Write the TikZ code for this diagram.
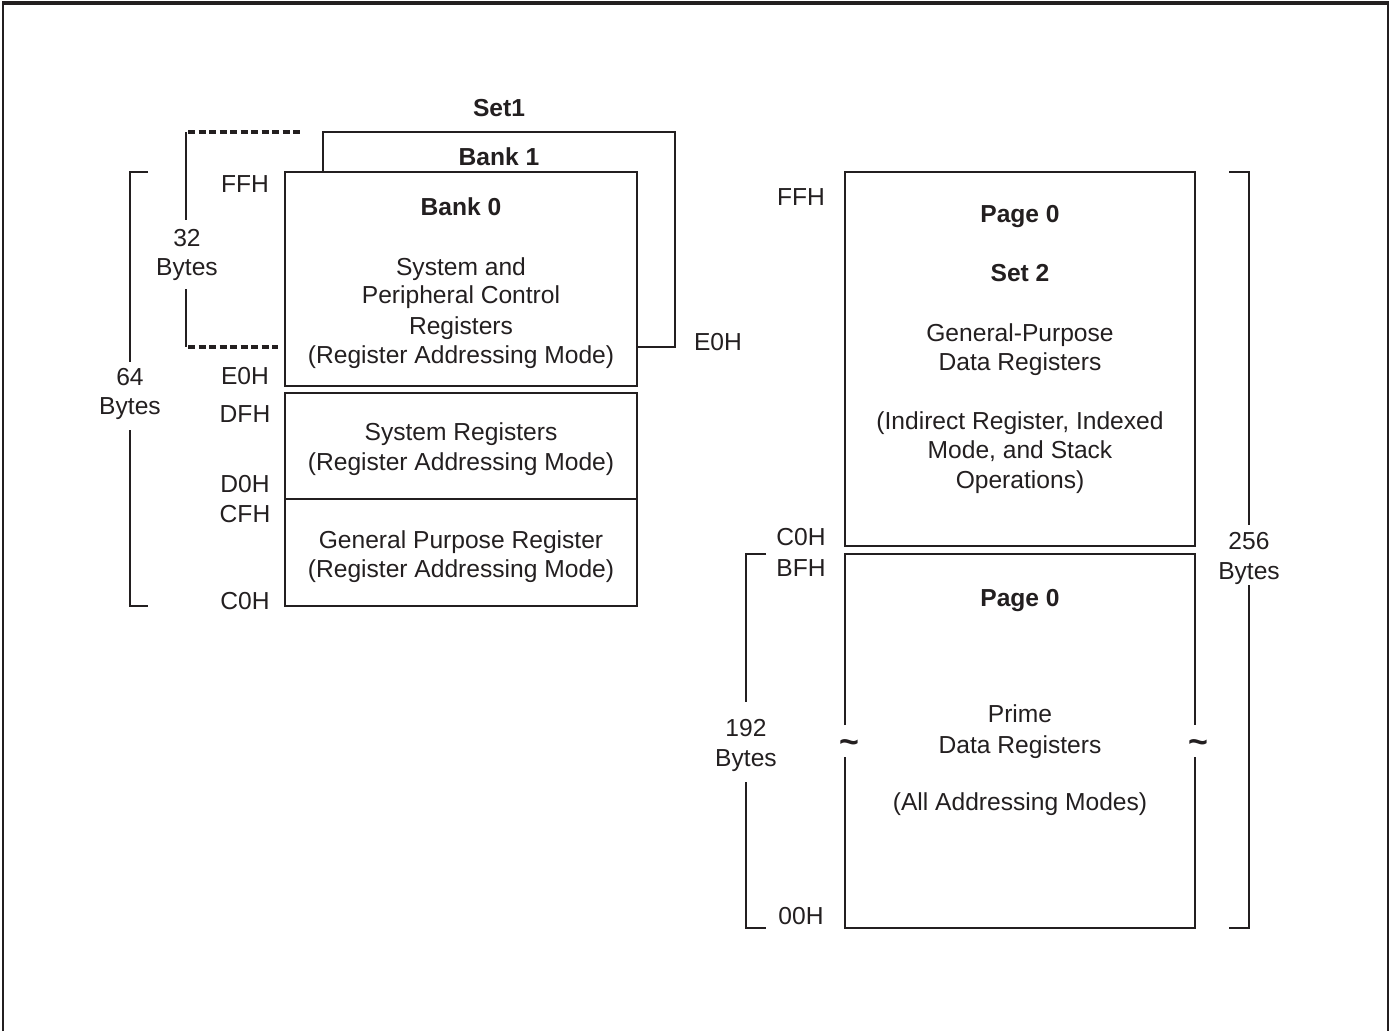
\documentclass[tikz,border=0pt]{standalone}
\usepackage{fontspec}
\setmainfont{Liberation Sans}
\definecolor{ink}{HTML}{231F20}
\begin{document}
\begin{tikzpicture}[x=1pt,y=-1pt,
  wall/.style={line width=1.8pt, draw=ink},
  txt/.style={anchor=base, inner sep=0pt, text=ink, font=\fontsize{24.6}{29}\selectfont},
  hd/.style={txt, font=\fontsize{24.6}{29}\selectfont\bfseries},
  brkmark/.style={txt, font=\fontsize{34}{36}\selectfont\bfseries},
  dashrule/.style={line width=3.3pt, draw=ink, dash pattern=on 7pt off 3.5pt},
  brk/.style={line width=1.8pt, draw=ink}]
\useasboundingbox (0,0) rectangle (1391,1031);

% outer frame, open at the bottom
\draw[line width=1.5pt, draw=ink] (3,1031) -- (3,3) -- (1388,3) -- (1388,1031);
\draw[line width=4pt, draw=ink] (2,3) -- (1389,3);

% ---------- register file: Set 1 ----------
% Bank 1, behind Bank 0
\draw[wall] (323,172) -- (323,132) -- (675,132) -- (675,347) -- (637,347);
\node[hd] (set1) at (499,116) {Set1};
\node[hd] (bank1) at (499,165) {Bank 1};

% Bank 0 and the system / general purpose blocks
\draw[wall] (285,172) rectangle (637,386);
\draw[wall] (285,393) rectangle (637,606);
\draw[wall] (285,499) -- (637,499);

\node[hd]  (b0)  at (461,215) {Bank 0};
\node[txt] (b0a) at (461,275) {System and};
\node[txt] (b0b) at (461,303) {Peripheral Control};
\node[txt] (b0c) at (461,334) {Registers};
\node[txt] (b0d) at (461,363) {(Register Addressing Mode)};

\node[txt] (sra) at (461,440) {System Registers};
\node[txt] (srb) at (461,470) {(Register Addressing Mode)};
\node[txt] (gpa) at (461,548) {General Purpose Register};
\node[txt] (gpb) at (461,577) {(Register Addressing Mode)};

% addresses
\node[txt] (aFF) at (245,192) {FFH};
\node[txt] (aE0) at (245,384) {E0H};
\node[txt] (aDF) at (245,422) {DFH};
\node[txt] (aD0) at (245,492) {D0H};
\node[txt] (aCF) at (245,522) {CFH};
\node[txt] (aC0) at (245,609) {C0H};
\node[txt] (aE0b) at (718,350) {E0H};

% 64 byte span
\draw[brk] (148,172) -- (130,172) -- (130,362);
\draw[brk] (130,430) -- (130,606) -- (148,606);
\node[txt] (n64)  at (130,385) {64};
\node[txt] (n64b) at (130,414) {Bytes};

% 32 byte span
\draw[brk] (186,132) -- (186,220);
\draw[brk] (186,289) -- (186,347);
\draw[dashrule] (188,132) -- (303,132);
\draw[dashrule] (188,347) -- (278,347);
\node[txt] (n32)  at (187,246) {32};
\node[txt] (n32b) at (187,275) {Bytes};

% ---------- register file: Set 2 and prime area ----------
\draw[wall] (845,172) rectangle (1195,546);
\node[hd]  (p0)  at (1020,222) {Page 0};
\node[hd]  (s2)  at (1020,281) {Set 2};
\node[txt] (s2a) at (1020,341) {General-Purpose};
\node[txt] (s2b) at (1020,370) {Data Registers};
\node[txt] (s2c) at (1020,429) {(Indirect Register, Indexed};
\node[txt] (s2d) at (1020,458) {Mode, and Stack};
\node[txt] (s2e) at (1020,488) {Operations)};

% prime data area, broken on both sides
\draw[wall] (845,725) -- (845,554) -- (1195,554) -- (1195,725);
\draw[wall] (845,757) -- (845,928) -- (1195,928) -- (1195,757);
\node[brkmark] (tl) at (849,753) {\textasciitilde};
\node[brkmark] (tr) at (1198,753) {\textasciitilde};
\node[hd]  (p0b) at (1020,606) {Page 0};
\node[txt] (pra) at (1020,722) {Prime};
\node[txt] (prb) at (1020,753) {Data Registers};
\node[txt] (prc) at (1020,810) {(All Addressing Modes)};

% addresses
\node[txt] (bFF) at (801,205) {FFH};
\node[txt] (bC0) at (801,545) {C0H};
\node[txt] (bBF) at (801,576) {BFH};
\node[txt] (b00) at (801,924) {00H};

% 256 byte span
\draw[brk] (1229,172) -- (1249,172) -- (1249,525);
\draw[brk] (1249,585) -- (1249,928) -- (1229,928);
\node[txt] (n256)  at (1249,549) {256};
\node[txt] (n256b) at (1249,579) {Bytes};

% 192 byte span
\draw[brk] (766,554) -- (746,554) -- (746,702);
\draw[brk] (746,782) -- (746,928) -- (766,928);
\node[txt] (n192)  at (746,736) {192};
\node[txt] (n192b) at (746,766) {Bytes};
\end{tikzpicture}
\end{document}
